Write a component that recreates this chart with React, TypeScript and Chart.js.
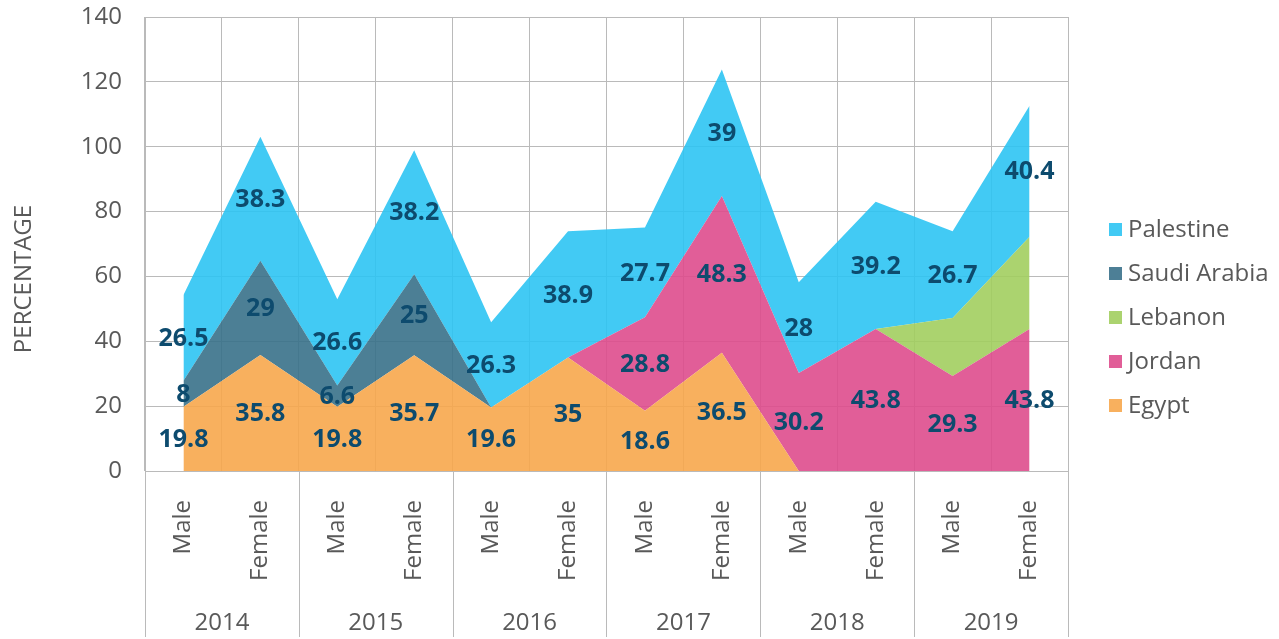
import React, { useEffect, useRef } from 'react';
import { Chart, registerables } from 'chart.js';

Chart.register(...registerables);

const categories = ['Male', 'Female', 'Male', 'Female', 'Male', 'Female', 'Male', 'Female', 'Male', 'Female', 'Male', 'Female'];
const years = ['2014', '2015', '2016', '2017', '2018', '2019'];

const egypt = [19.8, 35.8, 19.8, 35.7, 19.6, 35, 18.6, 36.5, 0, 0, 0, 0];
const jordan = [0, 0, 0, 0, 0, 0, 28.8, 48.3, 30.2, 43.8, 29.3, 43.8];
const lebanon = [0, 0, 0, 0, 0, 0, 0, 0, 0, 0, 17.9, 28.4];
const saudiArabia = [8, 29, 6.6, 25, 0, 0, 0, 0, 0, 0, 0, 0];
const palestine = [26.5, 38.3, 26.6, 38.2, 26.3, 38.9, 27.7, 39, 28, 39.2, 26.7, 40.4];

const yMin = 0;
const yMax = 140;
const yStep = 20;

const series = [
  { name: 'Egypt', values: egypt, fill: 'rgba(247,167,76,0.9)', swatch: '#F8B05E', labels: true },
  { name: 'Jordan', values: jordan, fill: 'rgba(222,76,141,0.9)', swatch: '#E15E98', labels: true },
  { name: 'Lebanon', values: lebanon, fill: 'rgba(162,206,95,0.9)', swatch: '#ABD36F', labels: false },
  { name: 'Saudi Arabia', values: saudiArabia, fill: 'rgba(57,113,138,0.9)', swatch: '#4D7F96', labels: true },
  { name: 'Palestine', values: palestine, fill: 'rgba(45,196,243,0.9)', swatch: '#42CAF4', labels: true },
];

const FONT = '"Open Sans", "Noto Sans", sans-serif';
const TEXT = '#595959';
const GRID = '#bababa';
const LABEL_COLOR = '#0d4b6e';

const overlayPlugin = {
  id: 'overlay',
  afterDatasetsDraw(chart: any) {
    const { ctx, scales } = chart;
    const x = scales.x;
    const y = scales.y;
    ctx.save();
    ctx.font = `bold 25px ${FONT}`;
    ctx.fillStyle = LABEL_COLOR;
    ctx.textAlign = 'center';
    ctx.textBaseline = 'middle';
    const base = new Array(categories.length).fill(0);
    series.forEach((s) => {
      s.values.forEach((v, i) => {
        if (s.labels && v > 0) {
          const px = x.getPixelForValue(i);
          const py = y.getPixelForValue(base[i] + v / 2);
          ctx.fillText(String(v), px, py + 1);
        }
        base[i] += v;
      });
    });
    ctx.restore();
  },
  afterDraw(chart: any) {
    const { ctx, scales, chartArea } = chart;
    const x = scales.x;
    const half = (x.getPixelForValue(1) - x.getPixelForValue(0)) / 2;
    ctx.save();
    // year group separators below plot
    ctx.strokeStyle = GRID;
    ctx.lineWidth = 1;
    for (let g = 0; g <= years.length; g++) {
      const idx = g * 2;
      const px = idx < categories.length ? x.getPixelForValue(idx) - half : x.getPixelForValue(categories.length - 1) + half;
      const ax = Math.round(px) + 0.5;
      ctx.beginPath();
      ctx.moveTo(ax, chartArea.bottom);
      ctx.lineTo(ax, chart.height - 2);
      ctx.stroke();
    }
    // year labels
    ctx.font = `24px ${FONT}`;
    ctx.fillStyle = TEXT;
    ctx.textAlign = 'center';
    ctx.textBaseline = 'alphabetic';
    years.forEach((yr, g) => {
      const cx = (x.getPixelForValue(g * 2) + x.getPixelForValue(g * 2 + 1)) / 2;
      ctx.fillText(yr, cx, 630);
    });
    // y axis title
    ctx.save();
    ctx.translate(31, 279);
    ctx.rotate(-Math.PI / 2);
    ctx.textAlign = 'center';
    ctx.textBaseline = 'alphabetic';
    ctx.fillText('PERCENTAGE', 0, 0);
    ctx.restore();
    // legend
    const legendItems = [...series].reverse();
    const lx = 1109;
    const startY = 229;
    const gap = 44;
    ctx.textAlign = 'left';
    ctx.textBaseline = 'middle';
    legendItems.forEach((s, k) => {
      const cy = startY + k * gap;
      ctx.fillStyle = s.swatch;
      ctx.fillRect(lx, cy - 6, 13, 13);
      ctx.fillStyle = TEXT;
      ctx.fillText(s.name, lx + 19, cy + 1);
    });
    ctx.restore();
  },
};

export default function App() {
  const canvasRef = useRef<HTMLCanvasElement | null>(null);

  useEffect(() => {
    const canvas = canvasRef.current;
    if (!canvas) return;
    const chart = new Chart(canvas, {
      type: 'line',
      data: {
        labels: categories,
        datasets: series.map((s, i) => ({
          label: s.name,
          data: s.values,
          backgroundColor: s.fill,
          borderColor: s.fill,
          borderWidth: 0,
          pointRadius: 0,
          pointHoverRadius: 0,
          tension: 0,
          fill: i === 0 ? 'origin' : '-1',
        })),
      },
      options: {
        responsive: false,
        animation: false,
        devicePixelRatio: 1,
        layout: { padding: { top: 17, right: 211, left: 0, bottom: 0 } },
        plugins: {
          legend: { display: false },
          tooltip: { enabled: false },
        },
        scales: {
          x: {
            type: 'category',
            offset: true,
            grid: { offset: true, color: GRID, drawTicks: false, lineWidth: 1 },
            border: { display: true, color: GRID },
            ticks: {
              autoSkip: false,
              minRotation: 90,
              maxRotation: 90,
              padding: 29,
              color: TEXT,
              font: { family: FONT, size: 24 },
            },
            afterFit: (scale: any) => {
              scale.height = 168;
              scale.paddingLeft = 0;
              scale.paddingRight = 0;
            },
          },
          y: {
            stacked: true,
            min: yMin,
            max: yMax,
            grid: { color: GRID, drawTicks: false, lineWidth: 1 },
            border: { display: true, color: GRID },
            ticks: {
              stepSize: yStep,
              padding: 23,
              color: TEXT,
              font: { family: FONT, size: 24 },
            },
            afterFit: (scale: any) => {
              scale.width = 145;
              scale.paddingTop = 0;
              scale.paddingBottom = 0;
            },
          },
        },
      },
      plugins: [overlayPlugin],
    });
    return () => chart.destroy();
  }, []);

  return (
    <div style={{ position: 'fixed', left: 0, top: 0, width: 1279, height: 639, background: '#fff' }}>
      <canvas ref={canvasRef} width={1279} height={639} style={{ display: 'block', width: 1279, height: 639 }} />
    </div>
  );
}
